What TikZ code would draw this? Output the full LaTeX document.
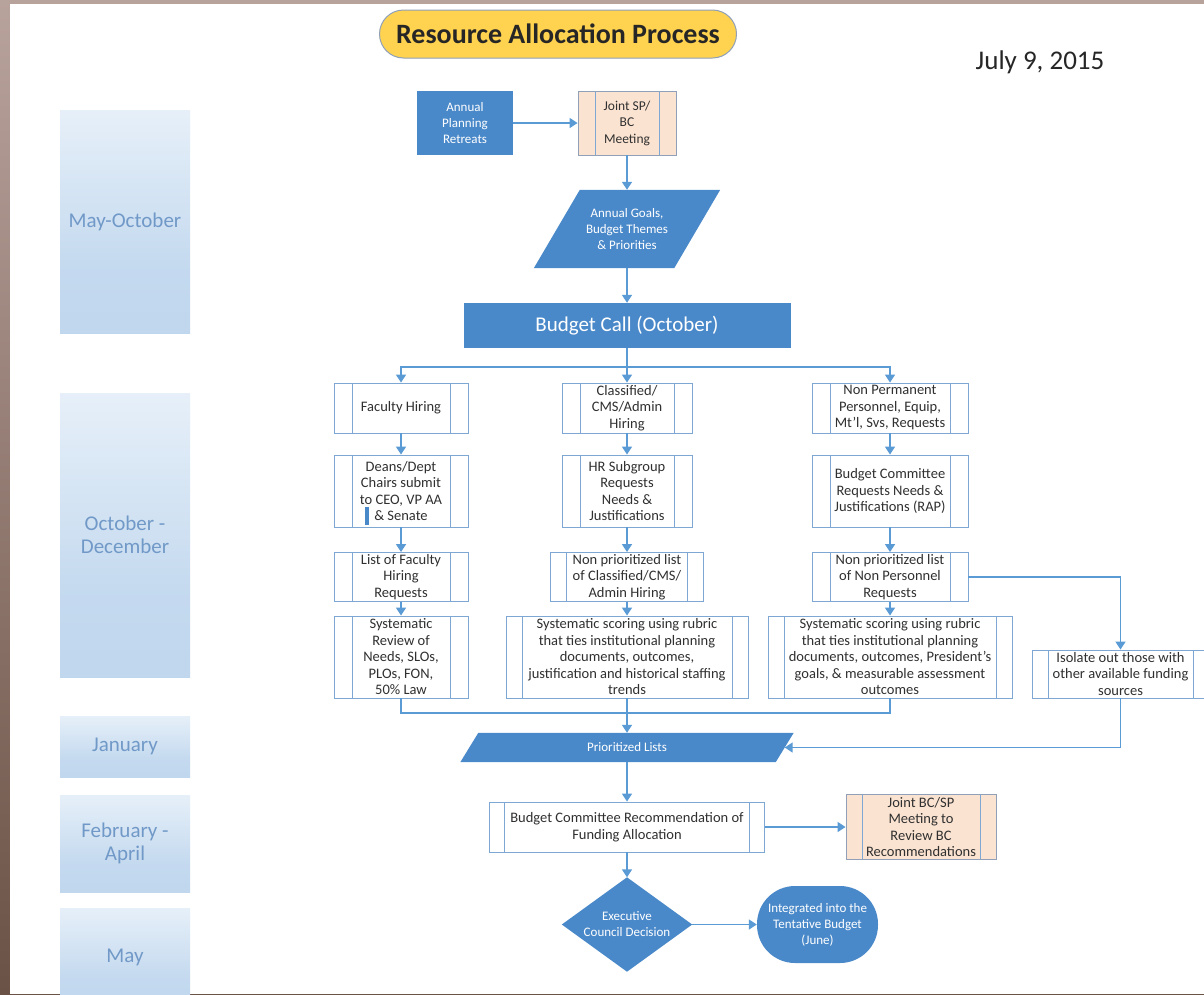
\documentclass[tikz,border=0pt]{standalone}
\usepackage{fontspec}
\setmainfont{Carlito}
\usetikzlibrary{arrows.meta}
\pgfdeclarelayer{bg}
\pgfdeclarelayer{shp}
\pgfsetlayers{bg,shp,main}
\definecolor{blueF}{HTML}{4A89C9}
\definecolor{lineB}{HTML}{5B9BD5}
\definecolor{boxB}{HTML}{7FA7D4}
\definecolor{peach}{HTML}{FBE3D1}
\definecolor{peachB}{HTML}{8FA0B8}
\definecolor{titleY}{HTML}{FFD34F}
\definecolor{monthT}{HTML}{7199C8}
\definecolor{monthTop}{HTML}{F5F9FD}
\definecolor{monthBot}{HTML}{BAD3EC}
\definecolor{txt}{HTML}{303030}
\definecolor{brownT}{HTML}{B8A29C}
\definecolor{brownB}{HTML}{6B5246}
\pgfdeclareverticalshading{monthsh}{100bp}{color(0bp)=(monthBot!45!white); color(8bp)=(monthBot); color(40bp)=(monthBot!85!white); color(90bp)=(monthTop); color(100bp)=(monthTop)}
\newcommand\bxf{\fontsize{14.5}{16.5}\selectfont}
\newcommand\whf{\fontsize{13}{16}\selectfont}
\tikzset{
  ppoff/.store in=\ppoff, ppoff=18pt,
  pp/.style={draw=boxB, fill=white, line width=0.9pt, inner sep=0pt, align=center, font=\bxf, text=txt,
    path picture={\draw[boxB, line width=0.9pt]
      ([xshift=\ppoff]path picture bounding box.north west) -- ([xshift=\ppoff]path picture bounding box.south west)
      ([xshift=-\ppoff]path picture bounding box.north east) -- ([xshift=-\ppoff]path picture bounding box.south east);}},
  ppk/.style={pp, fill=peach, draw=peachB},
  bluebox/.style={fill=blueF, inner sep=0pt, align=center, font=\whf, text=white},
  shp/.style={inner sep=0pt, align=center, font=\whf, text=white},
  month/.style={shading=monthsh, inner sep=0pt, align=center, text=monthT,
    font=\fontsize{21}{23}\selectfont, minimum width=130pt},
  arr/.style={draw=lineB, line width=1.5pt, -{Triangle[width=10pt,length=8pt]}},
  ln/.style={draw=lineB, line width=1.5pt},
}
\begin{document}
\begin{tikzpicture}[x=1pt, y=-1pt]
\useasboundingbox (0,0) rectangle (1204,994);
\begin{pgfonlayer}{bg}
\shade[top color=brownT, bottom color=brownB] (0,0) rectangle (1204,994);
\fill[white] (10,4) rectangle (1204,994);
\end{pgfonlayer}

% month labels
\node[month, minimum height=223pt] (m1) at (125,221.5) {May-October};
\node[month, minimum height=284pt] (m2) at (125,535) {October -\\December};
\node[month, minimum height=61pt] (m3) at (125,746.5) {January};
\node[month, minimum height=97pt] (m4) at (125,843.5) {February -\\April};
\node[month, minimum height=98pt] (m5) at (125,957) {May};

% title and date
\node[draw=peachB, line width=1pt, fill=titleY, rounded corners=24pt, minimum width=357pt, minimum height=48pt,
  font=\fontsize{28}{30}\selectfont\bfseries, text=black!85] (title) at (558,34) {Resource Allocation Process};
\node[font=\fontsize{27}{30}\selectfont, text=black!85] (date) at (1040,62) {July 9, 2015};

% top part
\node[bluebox, minimum width=96pt, minimum height=64pt] (apr) at (465,123) {Annual\\Planning\\Retreats};
\node[ppk, ppoff=17pt, minimum width=98pt, minimum height=64pt, font=\fontsize{13.5}{16.5}\selectfont] (jsb) at (627,123) {Joint SP/\\BC\\Meeting};
\node[shp, minimum width=140pt, minimum height=78pt] (goals) at (627,229) {Annual Goals,\\Budget Themes\\\& Priorities};
\node[bluebox, minimum width=327pt, minimum height=45pt, font=\fontsize{21}{24}\selectfont] (call) at (627,325.5) {Budget Call (October)};
\coordinate (split) at (627,367);

% row 1
\node[pp, minimum width=134pt, minimum height=50pt] (fh) at (401,408) {Faculty Hiring};
\node[pp, minimum width=130pt, minimum height=50pt] (cl) at (627,408) {Classified/\\CMS/Admin\\Hiring};
\node[pp, minimum width=156pt, minimum height=50pt] (np) at (890,408) {Non Permanent\\Personnel, Equip,\\Mt’l, Svs, Requests};
% row 2
\node[pp, minimum width=134pt, minimum height=72pt] (dd) at (401,491) {Deans/Dept\\Chairs submit\\to CEO, VP AA\\\& Senate};
\node[pp, minimum width=130pt, minimum height=72pt] (hr) at (627,491) {HR Subgroup\\Requests\\Needs \&\\Justifications};
\node[pp, minimum width=156pt, minimum height=72pt] (bc) at (890,491) {Budget Committee\\Requests Needs \&\\Justifications (RAP)};
% row 3
\node[pp, minimum width=134pt, minimum height=49pt] (lf) at (401,577) {List of Faculty\\Hiring\\Requests};
\node[pp, ppoff=16pt, minimum width=153pt, minimum height=49pt] (l2) at (627,577) {Non prioritized list\\of Classified/CMS/\\Admin Hiring};
\node[pp, minimum width=156pt, minimum height=49pt] (nl) at (890,577) {Non prioritized list\\of Non Personnel\\Requests};
% row 4
\node[pp, minimum width=134pt, minimum height=82pt] (sr) at (401,657) {Systematic\\Review of\\Needs, SLOs,\\PLOs, FON,\\50\% Law};
\node[pp, ppoff=16pt, minimum width=242pt, minimum height=82pt] (ss2) at (627,657) {Systematic scoring using rubric\\that ties institutional planning\\documents, outcomes,\\justification and historical staffing\\trends};
\node[pp, ppoff=16pt, minimum width=244pt, minimum height=82pt] (ss3) at (890,657) {Systematic scoring using rubric\\that ties institutional planning\\documents, outcomes, President’s\\goals, \& measurable assessment\\outcomes};
\node[pp, ppoff=16pt, minimum width=177pt, minimum height=48pt] (iso) at (1120.5,674) {Isolate out those with\\other available funding\\sources};
\coordinate (jn) at (627,713);

% lower part
\node[shp, minimum width=315pt, minimum height=29pt] (pl) at (627,747.5) {Prioritized Lists};
\node[pp, ppoff=15pt, minimum width=275pt, minimum height=50pt] (bcr) at (627,827) {Budget Committee Recommendation of\\Funding Allocation};
\node[ppk, ppoff=16pt, minimum width=150pt, minimum height=65pt] (jbc) at (921,827) {Joint BC/SP\\Meeting to\\Review BC\\Recommendations};
\node[shp, minimum width=130pt, minimum height=94pt] (dec) at (627,924.5) {Executive\\Council Decision};
\node[bluebox, rounded corners=38pt, minimum width=121pt, minimum height=77pt] (tb) at (817.5,924.5) {Integrated into the\\Tentative Budget\\(June)};

\begin{pgfonlayer}{shp}
\fill[blueF] ([xshift=23pt]goals.north west) -- ([xshift=23pt]goals.north east) -- ([xshift=-23pt]goals.south east) -- ([xshift=-23pt]goals.south west) -- cycle;
\fill[blueF] ([xshift=9pt]pl.north west) -- ([xshift=9pt]pl.north east) -- ([xshift=-9pt]pl.south east) -- ([xshift=-9pt]pl.south west) -- cycle;
\fill[blueF] (dec.north) -- (dec.east) -- (dec.south) -- (dec.west) -- cycle;
\end{pgfonlayer}

% small blue mark in the Deans box
\fill[blueF] (365,507) rectangle (368.5,525);

% connectors
\draw[arr] (apr.east) -- (jsb.west);
\draw[arr] (jsb.south) -- (goals.north);
\draw[arr] (goals.south) -- (call.north);
\draw[ln] (call.south) -- (split);
\draw[arr] (split) -| (fh.north);
\draw[arr] (split) -- (cl.north);
\draw[arr] (split) -| (np.north);
\draw[arr] (fh) -- (dd);
\draw[arr] (dd) -- (lf);
\draw[arr] (lf) -- (sr);
\draw[arr] (cl) -- (hr);
\draw[arr] (hr) -- (l2);
\draw[arr] (l2) -- (ss2);
\draw[arr] (np) -- (bc);
\draw[arr] (bc) -- (nl);
\draw[arr] (nl) -- (ss3);
\draw[arr] (nl.east) -| (iso.north);
\draw[ln] (sr.south) |- (jn) -| (ss3.south);
\draw[arr] (ss2.south) -- (pl.north);
\draw[arr] (iso.south) |- (pl.east);
\draw[arr] (pl.south) -- (bcr.north);
\draw[arr] (bcr.east) -- (jbc.west);
\draw[arr] (bcr.south) -- (dec.north);
\draw[arr] (dec.east) -- (tb.west);
\end{tikzpicture}
\end{document}
